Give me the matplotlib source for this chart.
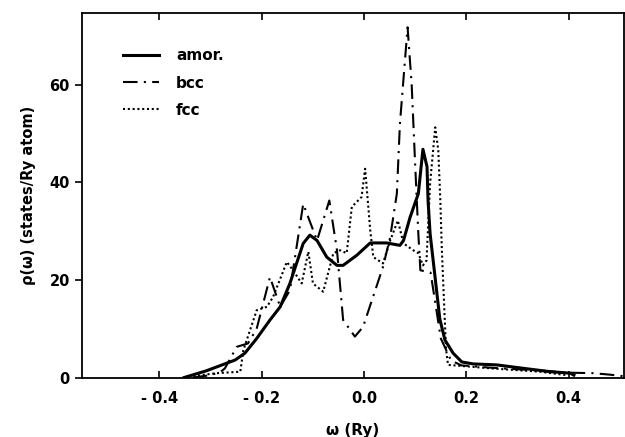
import matplotlib
matplotlib.use("Agg")
import matplotlib.pyplot as plt

# amorphous
amor_x = [-0.352, -0.308, -0.252, -0.233, -0.21, -0.184, -0.164, -0.145, -0.119, -0.106,
          -0.092, -0.073, -0.053, -0.041, -0.014, 0.012, 0.044, 0.070, 0.077, 0.09, 0.106,
          0.115, 0.123, 0.125, 0.129, 0.135, 0.148, 0.158, 0.174, 0.191, 0.213, 0.259,
          0.311, 0.364, 0.403, 0.41]
amor_y = [0.0, 1.4, 3.6, 5.0, 8.0, 11.8, 14.5, 19.3, 27.5, 29.2,
          28.1, 24.7, 23.0, 23.0, 25.1, 27.6, 27.6, 27.1, 28.1, 32.9, 37.7,
          46.8, 43.2, 36.3, 29.5, 24.0, 12.0, 7.7, 5.0, 3.2, 2.8, 2.6,
          1.9, 1.2, 0.9, 0.5]

# bcc
bcc_x = [-0.335, -0.30, -0.28, -0.272, -0.249, -0.227, -0.21, -0.184, -0.164, -0.145,
         -0.119, -0.092, -0.068, -0.053, -0.041, -0.018, -0.002, 0.037, 0.051, 0.064,
         0.07, 0.085, 0.093, 0.10, 0.106, 0.11, 0.13, 0.15, 0.17, 0.19, 0.25, 0.35,
         0.40, 0.448, 0.48, 0.506]
bcc_y = [0.0, 0.5, 1.2, 1.9, 6.3, 7.0, 10.0, 20.6, 14.5, 17.9,
         35.6, 28.1, 36.3, 26.1, 11.8, 8.4, 10.4, 22.7, 28.8, 37.7,
         52.0, 71.8, 60.0, 43.2, 29.5, 22.0, 21.5, 8.0, 3.5, 2.5, 2.0, 1.4,
         1.0, 0.9, 0.6, 0.3]

# fcc
fcc_x = [-0.334, -0.288, -0.242, -0.236, -0.21, -0.19, -0.178, -0.151, -0.139, -0.122,
         -0.109, -0.10, -0.08, -0.06, -0.047, -0.034, -0.024, -0.005, 0.002, 0.012,
         0.018, 0.037, 0.051, 0.066, 0.077, 0.096, 0.106, 0.115, 0.122, 0.129, 0.139,
         0.145, 0.149, 0.152, 0.160, 0.164, 0.20, 0.246, 0.344, 0.396]
fcc_y = [0.3, 0.9, 1.2, 5.6, 13.8, 14.5, 16.5, 23.7, 22.0, 19.3,
         25.8, 19.3, 17.6, 25.5, 26.1, 25.5, 35.0, 37.0, 42.8, 30.2,
         24.7, 23.4, 28.1, 32.2, 27.5, 26.1, 25.5, 23.0, 24.0, 39.8, 51.3,
         46.6, 36.3, 26.1, 6.0, 2.6, 2.3, 1.9, 1.2, 0.5]

xticks = [-0.4, -0.2, 0.0, 0.2, 0.4]
xticklabels = ["- 0.4", "- 0.2", "0.0", "0.2", "0.4"]
yticks = [0, 20, 40, 60]
series_labels = ["amor.", "bcc", "fcc"]

plt.rcParams['font.family'] = ['DejaVu Sans']
plt.rcParams['font.weight'] = 'bold'
plt.rcParams['axes.labelweight'] = 'bold'
fig = plt.figure(figsize=(6.25, 4.37), dpi=100)
ax = fig.add_axes([0.1307, 0.136, 0.8677, 0.835])

ax.plot(amor_x, amor_y, color='black', lw=2.2, ls='-', label=series_labels[0])
ax.plot(bcc_x, bcc_y, color='black', lw=1.5, ls=(0, (7, 3, 1, 3)), label=series_labels[1])
ax.plot(fcc_x, fcc_y, color='black', lw=1.5, ls=(0, (1, 1.3)), label=series_labels[2])

ax.set_xlim(-0.552, 0.508)
ax.set_ylim(0, 74.8)
ax.set_xticks(xticks)
ax.set_xticklabels(xticklabels)
ax.set_yticks(yticks)
ax.tick_params(axis='x', direction='in', top=True, length=5, width=1.2, labelsize=10.5, pad=10)
ax.tick_params(axis='y', direction='out', length=5, width=1.2, labelsize=10.5)
for s in ax.spines.values():
    s.set_linewidth(1.3)

ax.set_xlabel("ω (Ry)", fontsize=11, labelpad=12)
ax.set_ylabel("ρ(ω) (states/Ry atom)", fontsize=10.5, labelpad=10)

leg = ax.legend(loc='upper left', bbox_to_anchor=(0.05, 0.94), frameon=False,
                prop={'size': 11, 'weight': 'bold'}, handlelength=2.4,
                handletextpad=1.1, labelspacing=0.8)

fig.savefig("out.png", dpi=100)
